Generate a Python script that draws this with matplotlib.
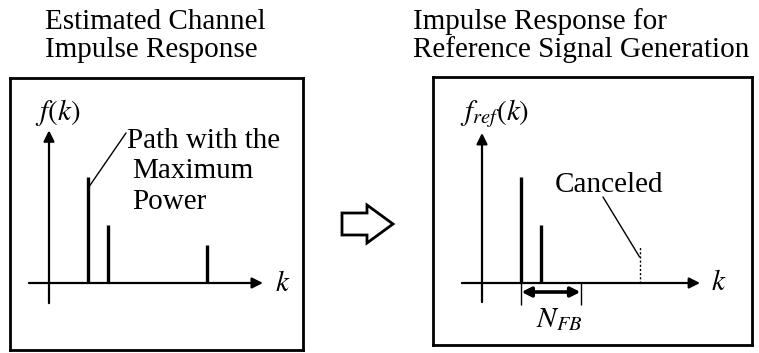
import matplotlib
matplotlib.use("Agg")
import matplotlib.pyplot as plt
from matplotlib.patches import FancyArrow

plt.rcParams['font.family'] = ['Liberation Serif', 'DejaVu Serif']
plt.rcParams['mathtext.fontset'] = 'stix'

# channel paths (delay in samples, relative amplitude)
delays = [2, 3, 8]
amps = [1.0, 0.55, 0.36]
# reference response: paths within N_FB of the max path are kept
ref_delays = [2, 3]
ref_amps = [1.0, 0.55]
cancel_delay = 8
cancel_amp = 0.34
n_fb = 3

W, H = 759, 353
fig = plt.figure(figsize=(W / 100, H / 100), dpi=100)

# overlay axes in pixel coords for text and the hollow arrow
ov = fig.add_axes([0, 0, 1, 1])
ov.set_xlim(0, W)
ov.set_ylim(H, 0)
ov.axis('off')


def panel(x0, x1, y0, y1, ox, oy, dx=19.7, dy=106.0):
    ax = fig.add_axes([x0 / W, 1 - y1 / H, (x1 - x0) / W, (y1 - y0) / H])
    ax.set_xlim((x0 - ox) / dx, (x1 - ox) / dx)
    ax.set_ylim((oy - y1) / dy, (oy - y0) / dy)
    ax.set_xticks([])
    ax.set_yticks([])
    for s in ax.spines.values():
        s.set_linewidth(2.0)
    ax.patch.set_alpha(0)
    return ax


def axes_arrows(ax, xa, xb, ya, yb):
    ap = dict(arrowstyle='-|>', lw=1.6, color='k', mutation_scale=16, shrinkA=0, shrinkB=0)
    ax.annotate('', xy=(xb, 0), xytext=(xa, 0), arrowprops=ap)
    ax.annotate('', xy=(0, yb), xytext=(0, ya), arrowprops=ap)


# left panel
ax1 = panel(10, 303, 78, 350, 49, 283)
axes_arrows(ax1, -1.02, 10.86, -0.19, 1.44)
ax1.vlines(delays, 0, amps, colors='k', lw=2.4)
ax1.annotate('', xy=(delays[0], 0.9), xytext=(126, 133), textcoords=ov.transData,
             arrowprops=dict(arrowstyle='-', lw=1.0, color='k', shrinkA=0, shrinkB=0))

# right panel
ax2 = panel(433, 752, 77, 345, 482, 283)
axes_arrows(ax2, -1.02, 11.07, -0.18, 1.415)
ax2.vlines(ref_delays, 0, ref_amps, colors='k', lw=2.4)
ax2.vlines([cancel_delay], 0, [cancel_amp], colors='k', lw=1.0, linestyles=(0, (1.5, 1.5)))
ax2.annotate('', xy=(cancel_delay, 0.245), xytext=(603, 197), textcoords=ov.transData,
             arrowprops=dict(arrowstyle='-', lw=1.0, color='k', shrinkA=0, shrinkB=0))
fb_end = ref_delays[0] + n_fb
ax2.vlines([ref_delays[0], fb_end], -0.21, 0, colors='k', lw=1.0)
ax2.annotate('', xy=(fb_end, -0.085), xytext=(ref_delays[0], -0.085),
             arrowprops=dict(arrowstyle='<|-|>', lw=2.6, color='k', mutation_scale=14,
                             shrinkA=0, shrinkB=0))

# hollow arrow between panels
ov.add_patch(FancyArrow(342, 224, 51, 0, width=22, head_width=38, head_length=26,
                        length_includes_head=True, fill=False, lw=2.0, ec='k'))

# text
fs = 21
ov.text(45, 29, 'Estimated Channel', fontsize=fs, va='baseline')
ov.text(45, 57, 'Impulse Response', fontsize=fs, va='baseline')
ov.text(413, 29, 'Impulse Response for', fontsize=fs, va='baseline')
ov.text(413, 57, 'Reference Signal Generation', fontsize=fs, va='baseline')

ov.text(127, 148, 'Path with the', fontsize=fs, va='baseline')
ov.text(132, 178, 'Maximum', fontsize=fs, va='baseline')
ov.text(132, 209, 'Power', fontsize=fs, va='baseline')
ov.text(555, 192, 'Canceled', fontsize=fs, va='baseline')

ov.text(35, 120, '$f(k)$', fontsize=fs, va='baseline')
ov.text(460, 120, '$f_{ref}(k)$', fontsize=fs, va='baseline')
ov.text(275, 291, '$k$', fontsize=fs, va='baseline')
ov.text(711, 290, '$k$', fontsize=fs, va='baseline')
ov.text(536, 327, '$N_{FB}$', fontsize=fs, va='baseline')

fig.savefig('out.png', dpi=100)
